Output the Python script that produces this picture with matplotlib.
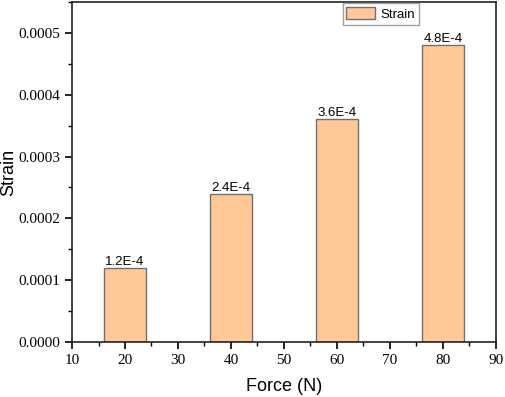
import matplotlib
matplotlib.use("Agg")
import matplotlib.pyplot as plt
from matplotlib.ticker import MultipleLocator

force = [20, 40, 60, 80]
strain = [0.00012, 0.00024, 0.00036, 0.00048]
labels = ["1.2E-4", "2.4E-4", "3.6E-4", "4.8E-4"]

fig = plt.figure(figsize=(5.05, 3.97), dpi=100)
ax = fig.add_axes([0.1426, 0.1385, 0.8394, 0.8565])

bars = ax.bar(force, strain, width=8, color="#FFC896", edgecolor="#707070",
              linewidth=1.0, label="Strain")
for b, lab in zip(bars, labels):
    ax.text(b.get_x() + b.get_width() / 2, b.get_height(), lab,
            ha="center", va="bottom", fontsize=9.5, family="Liberation Sans")

ax.set_xlim(10, 90)
ax.set_ylim(0, 0.00055)
ax.xaxis.set_major_locator(MultipleLocator(10))
ax.xaxis.set_minor_locator(MultipleLocator(5))
ax.yaxis.set_major_locator(MultipleLocator(0.0001))
ax.yaxis.set_minor_locator(MultipleLocator(0.00005))
ax.yaxis.set_major_formatter(plt.FuncFormatter(lambda v, p: "%.4f" % v))
ax.tick_params(which="both", direction="out", top=False, right=False)
ax.tick_params(which="major", length=5, width=1.2, labelsize=11)
ax.tick_params(which="minor", length=3, width=1.0)
for lab in ax.get_xticklabels() + ax.get_yticklabels():
    lab.set_family("Liberation Serif")
for s in ax.spines.values():
    s.set_linewidth(1.2)
    s.set_color("#222222")

ax.set_xlabel("Force (N)", fontsize=13, family="Liberation Sans", labelpad=8)
ax.set_ylabel("Strain", fontsize=13, family="Liberation Sans", labelpad=1)

leg = ax.legend(loc="upper left", bbox_to_anchor=(0.635, 1.0),
                prop={"family": "Liberation Sans", "size": 9.5}, fancybox=False,
                handlelength=2.2, handleheight=1.0, borderpad=0.3,
                handletextpad=0.4, borderaxespad=0.1)
leg.get_frame().set_edgecolor("#888888")
leg.get_frame().set_linewidth(1.0)

fig.savefig("out.png", dpi=100)
